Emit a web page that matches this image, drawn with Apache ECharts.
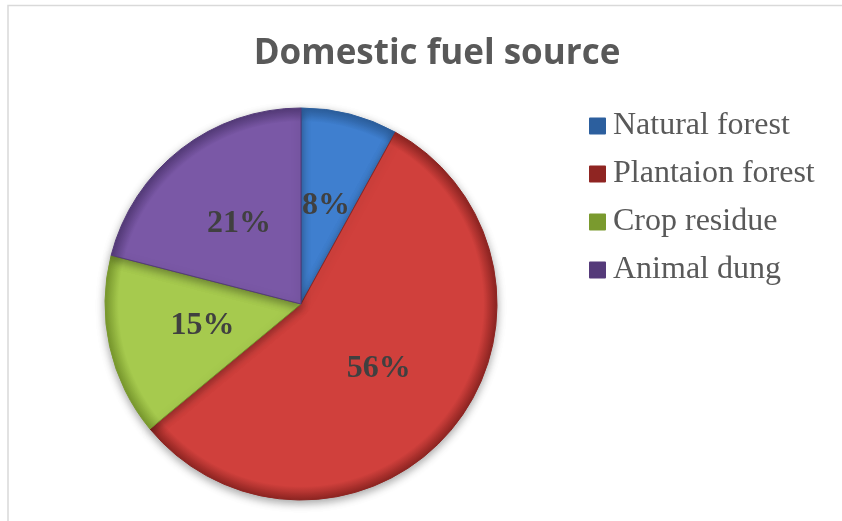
<!DOCTYPE html>
<html>
<head>
<meta charset="utf-8">
<script src="https://cdn.jsdelivr.net/npm/echarts@6/dist/echarts.min.js"></script>
<style>
html,body{margin:0;padding:0;background:#fff;}
#chart{width:842px;height:521px;}
</style>
</head>
<body>
<div id="chart"></div>
<script>
var categories = ['Natural forest', 'Plantaion forest', 'Crop residue', 'Animal dung'];
var values = [8, 56, 15, 21];
var baseColors = ['#3f7fcf', '#d0403c', '#a6ca4e', '#7a58a6'];
var rimColors = ['#2c5f9e', '#8f2522', '#7a9a2e', '#553b7a'];

var cx = 301, cy = 304, R = 196;

var chart = echarts.init(document.getElementById('chart'), null, {renderer: 'canvas'});

var data = categories.map(function (name, i) {
  return {
    name: name,
    value: values[i],
    itemStyle: {
      color: {
        type: 'radial', x: cx, y: cy, r: R, global: true,
        colorStops: [
          {offset: 0, color: baseColors[i]},
          {offset: 0.93, color: baseColors[i]},
          {offset: 1, color: rimColors[i]}
        ]
      },
      borderColor: rimColors[i],
      borderWidth: 1
    }
  };
});

chart.setOption({
  animation: false,
  backgroundColor: '#ffffff',
  color: baseColors,
  graphic: [{
    type: 'polyline',
    shape: {points: [[8, 530], [8, 5.5], [850, 5.5]]},
    style: {stroke: '#d9d9d9', lineWidth: 1.5, fill: null},
    silent: true
  }],
  title: {
    text: 'Domestic fuel source',
    left: 432,
    top: 32,
    textAlign: 'center',
    textStyle: {
      fontFamily: '"Open Sans", "Noto Sans", sans-serif',
      fontWeight: 'bold',
      fontSize: 35,
      color: '#595959'
    }
  },
  legend: {
    orient: 'vertical',
    left: 584,
    top: 103,
    icon: 'rect',
    itemWidth: 15,
    itemHeight: 15,
    itemGap: 12,
    data: categories,
    textStyle: {
      fontFamily: '"Liberation Serif", "DejaVu Serif", serif',
      fontSize: 32,
      lineHeight: 36,
      color: '#595959',
      padding: [0, 0, 0, 3]
    }
  },
  series: [{
    type: 'pie',
    center: [cx, cy],
    radius: [0, R],
    startAngle: 90,
    clockwise: true,
    avoidLabelOverlap: false,
    itemStyle: {
      shadowBlur: 8,
      shadowColor: 'rgba(0,0,0,0.35)',
      shadowOffsetY: 3
    },
    label: {
      show: true,
      position: 'inside',
      formatter: '{d}%',
      fontFamily: '"Liberation Serif", "DejaVu Serif", serif',
      fontWeight: 'bold',
      fontSize: 32,
      color: '#404040'
    },
    labelLine: {show: false},
    emphasis: {disabled: true},
    data: data
  }]
});
</script>
</body>
</html>
